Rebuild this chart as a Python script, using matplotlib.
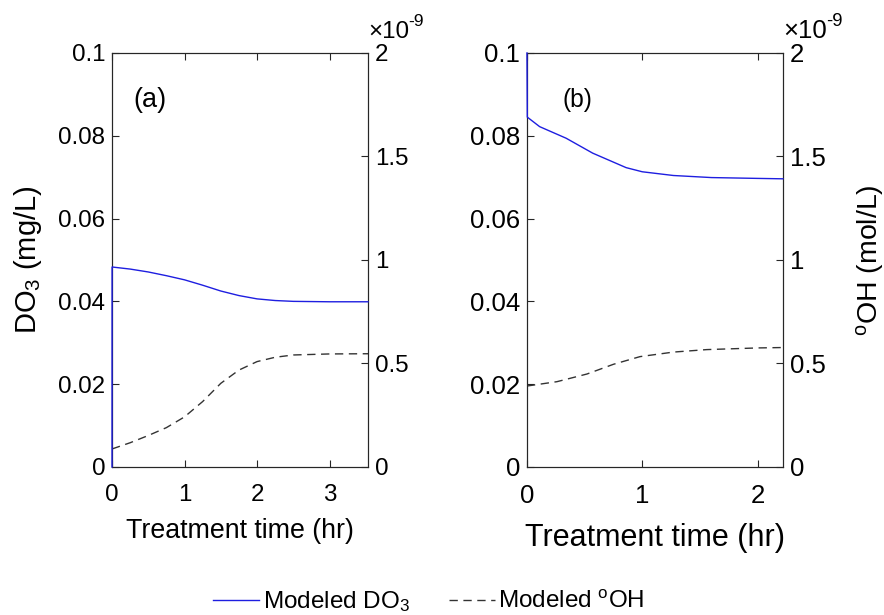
import matplotlib
matplotlib.use("Agg")
import matplotlib.pyplot as plt
from matplotlib.lines import Line2D

plt.rcParams['font.family'] = ['Liberation Sans', 'DejaVu Sans']
plt.rcParams['mathtext.fontset'] = 'custom'
plt.rcParams['mathtext.rm'] = 'Liberation Sans'
plt.rcParams['mathtext.it'] = 'Liberation Sans:italic'

# panel (a)
t_a = [0, 0.001, 0.25, 0.5, 0.75, 1.0, 1.25, 1.5, 1.75, 2.0, 2.25, 2.5, 3.0, 3.53]
do3_a = [0, 0.0483, 0.0478, 0.0471, 0.0462, 0.0452, 0.0439, 0.0425, 0.0414,
         0.0406, 0.0402, 0.0400, 0.0399, 0.0399]
t_oh_a = [0, 0.25, 0.5, 0.75, 1.0, 1.25, 1.5, 1.75, 2.0, 2.25, 2.5, 3.0, 3.53]
oh_a = [0.087, 0.117, 0.152, 0.190, 0.242, 0.316, 0.404, 0.468, 0.509, 0.530,
        0.541, 0.546, 0.547]  # x 1e-9 mol/L

# panel (b)
t_b = [0, 0.003, 0.11, 0.34, 0.57, 0.86, 1.0, 1.27, 1.6, 2.0, 2.22]
do3_b = [0.1, 0.0845, 0.0822, 0.0794, 0.0758, 0.0723, 0.0713, 0.0704, 0.0699,
         0.0697, 0.0696]
t_oh_b = [0, 0.26, 0.52, 0.75, 0.98, 1.27, 1.56, 2.0, 2.22]
oh_b = [0.391, 0.412, 0.449, 0.496, 0.533, 0.555, 0.567, 0.575, 0.577]

y_ticks = [0, 0.02, 0.04, 0.06, 0.08, 0.1]
y_ticklabels = ['0', '0.02', '0.04', '0.06', '0.08', '0.1']
y2_ticks = [0, 0.5, 1, 1.5, 2]
y2_ticklabels = ['0', '0.5', '1', '1.5', '2']

blue = '#1e1ee0'
dash_col = '#333333'
spine_col = '#262626'
dashes = (0, (6, 4))

fig = plt.figure(figsize=(8.84, 6.15), dpi=100)

panels = [
    dict(rect=[0.1267, 0.2407, 0.2896, 0.6732], t=t_a, do3=do3_a, toh=t_oh_a, oh=oh_a,
         xmax=3.53, xticks=[0, 1, 2, 3], fs=17.4, xl_fs=19.3, xl_pad=9,
         lab='(a)', lab_fs=19.5, labpos=(0.082, 0.886)),
    dict(rect=[0.5961, 0.2407, 0.2896, 0.6732], t=t_b, do3=do3_b, toh=t_oh_b, oh=oh_b,
         xmax=2.22, xticks=[0, 1, 2], fs=18.5, xl_fs=22, xl_pad=11,
         lab='(b)', lab_fs=17.7, labpos=(0.137, 0.886)),
]

for i, p in enumerate(panels):
    ax = fig.add_axes(p['rect'])
    ax2 = ax.twinx()
    # keep the DO3 line above the twin's spines
    ax.set_zorder(ax2.get_zorder() + 1)
    ax.patch.set_visible(False)
    fs = p['fs']
    ax.plot(p['t'], p['do3'], color=blue, lw=1.0, zorder=3, clip_on=False)
    ax2.plot(p['toh'], p['oh'], color=dash_col, lw=1.0, ls=dashes)
    ax.set_xlim(0, p['xmax'])
    ax.set_ylim(0, 0.1)
    ax2.set_ylim(0, 2)
    ax.set_xticks(p['xticks'])
    ax.set_yticks(y_ticks)
    ax.set_yticklabels(y_ticklabels)
    ax2.set_yticks(y2_ticks)
    ax2.set_yticklabels(y2_ticklabels)
    ax.tick_params(direction='in', length=5, width=0.8, labelsize=fs, pad=12,
                   top=True, color=spine_col)
    ax.tick_params(axis='y', pad=5)
    ax2.tick_params(direction='in', length=5, width=0.8, labelsize=fs, pad=5,
                    color=spine_col)
    for a in (ax, ax2):
        for s in a.spines.values():
            s.set_color(spine_col)
            s.set_linewidth(0.8)
    ax.set_xlabel('Treatment time (hr)', fontsize=p['xl_fs'], labelpad=p['xl_pad'])
    ax.text(p['labpos'][0], p['labpos'][1], p['lab'], transform=ax.transAxes,
            fontsize=p['lab_fs'], ha='left', va='center')
    # MATLAB style exponent label above the right axis
    ax2.text(1.0, 1.036, '\u00d710', transform=ax2.transAxes,
             fontsize=fs, ha='left', va='baseline')
    ax2.annotate('-9', xy=(1.0, 1.036), xycoords='axes fraction',
                 xytext=(fs * 1.68, 8.6), textcoords='offset points',
                 fontsize=fs * 0.72, ha='left', va='baseline')
    if i == 0:
        ax.set_ylabel('DO$_3$ (mg/L)', fontsize=21, labelpad=10)
    else:
        ax2.set_ylabel(r'$^{\mathrm{o}}$OH (mol/L)', fontsize=20.5, labelpad=20)

handles = [Line2D([], [], color=blue, lw=1.0),
           Line2D([], [], color=dash_col, lw=1.0, ls=dashes)]
fig.legend(handles, ['Modeled DO$_3$', r'Modeled $^{\mathrm{o}}$OH'],
           loc='lower center', bbox_to_anchor=(0.485, -0.034), ncol=2, frameon=False,
           fontsize=17.5, handlelength=1.9, handletextpad=0.15, columnspacing=1.6)

fig.savefig('out.png', dpi=100, facecolor='white')
